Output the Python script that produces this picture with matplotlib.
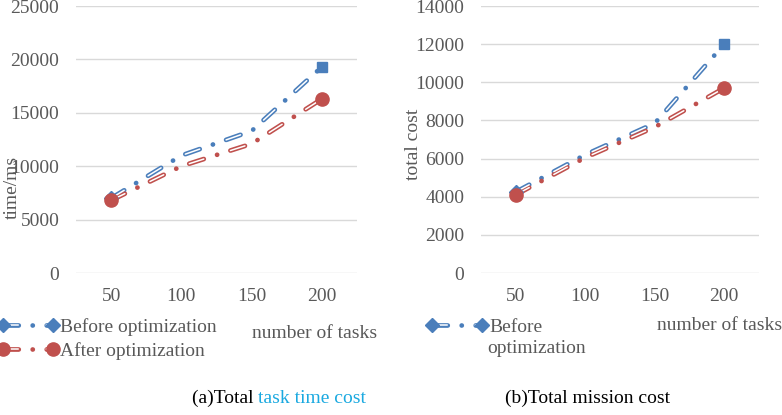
"""
Two line charts: task time and mission cost before/after optimization
"""
import matplotlib
matplotlib.use('Agg')
import matplotlib.pyplot as plt
from matplotlib.legend_handler import HandlerTuple

plt.rcParams['font.family'] = ['Liberation Serif', 'DejaVu Serif']
plt.rcParams['lines.scale_dashes'] = False

tasks = [50, 100, 150, 200]
time_before = [7000, 11000, 13300, 19300]
time_after = [6800, 10000, 12100, 16300]
cost_before = [4250, 6200, 7850, 12000]
cost_after = [4100, 6050, 7650, 9700]
time_ticks = [0, 5000, 10000, 15000, 20000, 25000]
cost_ticks = [0, 2000, 4000, 6000, 8000, 10000, 12000, 14000]

blue = '#4a7ebb'
red = '#c0504d'
grey = '#595959'
fs = 14
W, H = 782, 415

def px(x, y):
    # pixel position (from top-left) -> figure fraction
    return x / W, 1 - y / H

def dline(ax, x, y, color, marker, last_marker, ms, lms):
    c, = ax.plot(x, y, color=color, lw=3.4, ls=(0, (11, 10, 0.1, 10)),
                 dash_capstyle='round', solid_capstyle='round', zorder=3)
    w, = ax.plot(x, y, color='white', lw=1.1, ls=(0, (11, 20.1)),
                 dash_capstyle='round', zorder=4)
    m, = ax.plot(x, y, ls='none', marker=marker, ms=ms, color=color,
                 markevery=[0], zorder=5)
    ax.plot(x[-1:], y[-1:], ls='none', marker=last_marker, ms=lms,
            color=color, zorder=5)
    return (c, w, m)

def style(ax, ticks, ypad):
    ax.set_xlim(25, 225)
    ax.set_ylim(ticks[0], ticks[-1])
    ax.set_xticks(tasks)
    ax.set_yticks(ticks)
    ax.grid(axis='y', color='#d9d9d9', lw=1.0)
    ax.set_axisbelow(True)
    for s in ax.spines.values():
        s.set_visible(False)
    ax.tick_params(axis='both', length=0, labelsize=fs, labelcolor=grey)
    ax.tick_params(axis='y', pad=ypad)
    ax.tick_params(axis='x', pad=11)

fig = plt.figure(figsize=(W / 100, H / 100), dpi=100)

ax1 = fig.add_axes([76 / W, 1 - 273 / H, 281 / W, 267 / H])
hb1 = dline(ax1, tasks, time_before, blue, 'D', 's', 7, 7.5)
ha1 = dline(ax1, tasks, time_after, red, 'o', 'o', 9.5, 9.5)
style(ax1, time_ticks, 12)

ax2 = fig.add_axes([481 / W, 1 - 273 / H, 278 / W, 267 / H])
hb2 = dline(ax2, tasks, cost_before, blue, 'D', 's', 7, 7.5)
ha2 = dline(ax2, tasks, cost_after, red, 'o', 'o', 9.5, 9.5)
style(ax2, cost_ticks, 12)

fig.text(*px(12, 187), 'time/ms', rotation=90, ha='center', va='center',
         fontsize=fs, color=grey)
fig.text(*px(413, 144), 'total cost', rotation=90, ha='center', va='center',
         fontsize=fs, color=grey)
fig.text(*px(252, 333), 'number of tasks', ha='left', va='center',
         fontsize=fs, color=grey)
fig.text(*px(657, 325), 'number of tasks', ha='left', va='center',
         fontsize=fs, color=grey)

leg_kw = dict(loc='upper left', frameon=False, fontsize=fs, numpoints=2,
              handlelength=3.2, handletextpad=0.05, borderpad=0,
              borderaxespad=0, labelspacing=0.3, labelcolor=grey,
              handler_map={tuple: HandlerTuple(ndivide=1)})
fig.legend([hb1, ha1], ['Before optimization', 'After optimization'],
           bbox_to_anchor=px(-3, 318), **leg_kw)
fig.legend([hb2], ['Before'], bbox_to_anchor=px(426, 318), **leg_kw)
fig.text(*px(487, 348), 'optimization', ha='left', va='center',
         fontsize=fs, color=grey)

t1 = fig.text(*px(192, 398), '(a)Total ', ha='left', va='center',
              fontsize=fs, color='black')
ax1.annotate('task time cost', xy=(1, 0), xycoords=t1, ha='left',
             va='bottom', fontsize=fs, color='#1aa9e0', annotation_clip=False)
fig.text(*px(505, 398), '(b)Total mission cost', ha='left', va='center',
         fontsize=fs, color='black')

fig.savefig('out.png', dpi=100)
